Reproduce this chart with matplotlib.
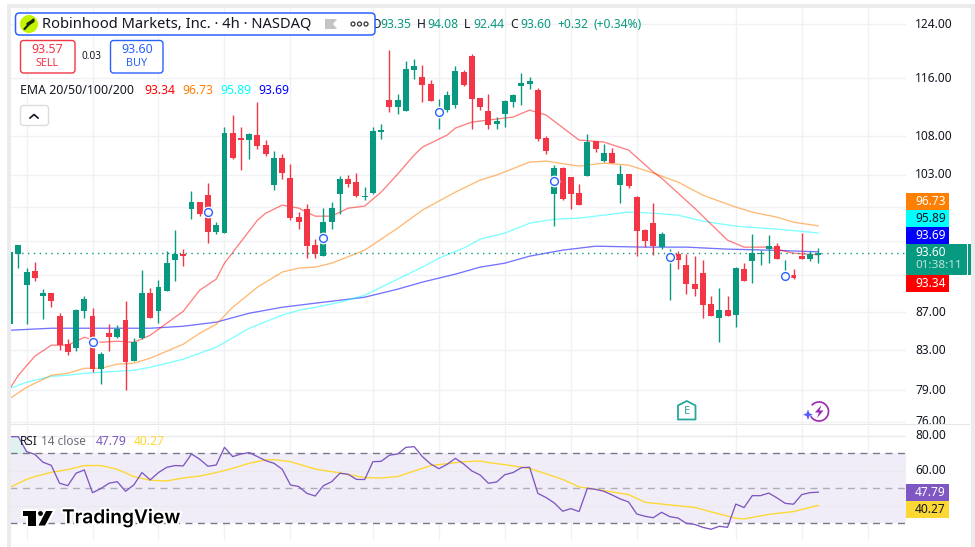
import numpy as np
import matplotlib
matplotlib.use('Agg')
import matplotlib.pyplot as plt
from matplotlib.patches import Rectangle, FancyBboxPatch, Polygon, Circle, Arc
import matplotlib.patheffects as pe

plt.rcParams['font.family'] = ['Noto Sans', 'DejaVu Sans']

# 4h candles
opens = [85.70, 93.42, 89.93, 91.49, 88.71, 89.04, 86.55, 83.62, 83.21, 87.08,
         86.55, 81.08, 84.76, 84.34, 86.13, 81.89, 84.24, 89.04, 87.08, 89.26,
         92.73, 93.42, 98.74, 99.60, 100.46, 95.98, 95.87, 108.43, 107.77, 107.50,
         108.16, 106.84, 101.71, 105.14, 102.58, 97.77, 98.74, 94.46, 93.19, 97.17,
         100.58, 102.46, 102.08, 100.21, 100.71, 108.57, 112.92, 111.95, 111.40, 117.17,
         116.17, 115.17, 111.13, 111.54, 112.23, 116.88, 119.21, 113.20, 111.40, 109.64,
         111.00, 112.64, 114.89, 115.17, 114.32, 107.77, 100.58, 103.85, 102.71, 100.71,
         102.84, 107.37, 104.75, 105.79, 101.71, 103.09, 100.21, 96.22, 97.05, 94.23,
         92.84, 93.42, 92.17, 90.04, 91.26, 87.84, 86.34, 87.19, 86.66, 91.71,
         92.62, 93.42, 94.00, 94.34, 90.71, 91.04, 93.19, 92.84, 93.35]
highs = [93.65, 94.46, 91.83, 92.50, 89.48, 89.04, 86.87, 84.13, 87.30, 88.71,
         87.41, 82.80, 85.70, 85.60, 88.16, 84.24, 91.60, 89.59, 90.48, 93.76,
         96.22, 94.00, 100.96, 99.60, 101.96, 97.17, 109.24, 110.86, 109.24, 108.43,
         112.64, 107.50, 106.05, 105.66, 104.36, 98.38, 99.35, 95.16, 98.86, 99.60,
         102.84, 102.97, 103.22, 101.46, 109.24, 109.64, 120.09, 113.76, 118.47, 118.77,
         117.89, 115.74, 113.06, 114.18, 117.75, 117.17, 119.50, 113.20, 113.76, 110.59,
         112.92, 113.76, 116.74, 116.17, 114.60, 108.03, 104.24, 103.98, 102.71, 101.83,
         108.30, 107.37, 106.97, 106.44, 104.24, 103.09, 100.33, 96.34, 99.47, 95.98,
         94.00, 93.76, 93.42, 93.19, 92.73, 88.71, 89.59, 88.71, 91.94, 92.39,
         95.75, 93.88, 95.63, 94.69, 92.73, 91.71, 95.87, 93.76, 94.08]
lows = [85.70, 91.83, 85.70, 90.37, 86.23, 87.51, 83.00, 82.49, 82.90, 86.34,
        80.78, 79.60, 82.90, 84.24, 79.01, 81.89, 84.13, 86.34, 85.81, 89.26,
        90.37, 92.05, 97.53, 97.89, 94.69, 95.75, 95.87, 105.01, 103.60, 105.01,
        106.31, 105.40, 101.08, 102.46, 97.41, 96.34, 92.96, 92.96, 93.19, 96.34,
        98.13, 101.46, 100.21, 99.84, 100.58, 107.63, 111.27, 111.00, 111.40, 115.88,
        112.64, 112.78, 108.97, 111.27, 111.81, 114.89, 108.97, 111.54, 108.97, 108.97,
        109.24, 111.95, 112.23, 114.46, 107.37, 105.66, 96.69, 99.84, 98.74, 99.23,
        102.84, 105.92, 104.62, 104.49, 99.47, 101.33, 93.19, 94.23, 93.30, 94.00,
        88.27, 91.71, 88.93, 88.71, 86.34, 86.55, 83.82, 86.55, 85.39, 90.37,
        90.15, 92.17, 92.39, 92.84, 90.37, 90.59, 92.84, 92.62, 92.44]
closes = [93.65, 94.46, 91.38, 90.71, 89.04, 88.16, 83.52, 82.80, 87.19, 88.38,
          81.08, 82.59, 84.34, 85.18, 81.79, 83.82, 89.04, 86.34, 89.70, 92.39,
          93.42, 93.19, 99.60, 98.13, 95.98, 96.81, 108.43, 105.14, 107.50, 108.30,
          106.71, 105.66, 105.14, 103.22, 97.65, 97.17, 94.34, 93.42, 97.17, 98.86,
          102.46, 101.83, 100.33, 100.33, 108.70, 108.83, 111.95, 112.92, 117.31, 117.75,
          115.03, 112.78, 111.54, 113.62, 117.03, 115.03, 113.06, 111.95, 109.51, 110.05,
          112.78, 113.62, 115.31, 115.60, 107.63, 106.05, 103.85, 99.96, 100.58, 99.23,
          107.24, 106.31, 105.79, 104.49, 103.09, 101.58, 96.10, 94.92, 94.34, 95.75,
          93.30, 92.73, 90.04, 89.48, 87.73, 86.55, 87.19, 86.55, 91.83, 90.37,
          93.53, 93.53, 94.34, 92.84, 91.15, 90.71, 92.84, 93.42, 93.60]

# bars carrying the hollow circle marks
marker_bars = [10, 24, 38, 52, 66, 80, 94]
marker_prices = [83.82, 98.38, 95.28, 111.27, 102.20, 93.07, 90.93]

ema20_x = [0, 1, 3, 5, 7, 9, 11, 13, 15, 17, 18, 21, 23, 25, 26, 30, 31, 33, 35, 37, 39, 41, 43,
           45, 47, 49, 50, 53, 54, 56, 58, 61, 63, 65, 69, 72, 75, 78, 79, 83, 87, 89, 92, 94, 95, 98]
ema20 = [79.20, 80.48, 82.39, 83.52, 83.52, 84.34, 83.82, 83.93, 83.82, 84.55, 85.18, 87.08, 89.37,
         90.59, 92.39, 97.41, 98.25, 99.23, 98.86, 97.89, 97.89, 98.86, 99.11, 100.83, 103.09, 105.53,
         106.57, 108.16, 109.10, 109.91, 110.18, 110.59, 111.54, 110.86, 107.50, 107.24, 106.18, 103.35,
         102.58, 98.86, 95.04, 94.23, 94.23, 93.76, 93.53, 93.34]
ema50_x = [0, 2, 5, 7, 9, 11, 13, 15, 17, 21, 23, 25, 27, 30, 33, 35, 37, 39, 43, 47, 50, 52, 54,
           57, 59, 63, 65, 69, 72, 75, 78, 81, 84, 88, 90, 93, 95, 98]
ema50 = [78.23, 79.30, 80.48, 80.68, 81.18, 81.18, 81.59, 81.69, 82.19, 83.62, 84.76, 85.70, 87.51,
         89.70, 91.38, 91.83, 91.94, 92.39, 93.88, 96.46, 98.62, 99.72, 100.83, 102.33, 102.97, 104.62,
         104.75, 104.11, 104.49, 104.24, 103.22, 102.08, 100.46, 98.98, 98.38, 97.77, 97.17, 96.73]
ema100_x = [0, 2, 5, 7, 9, 11, 15, 17, 21, 25, 29, 33, 35, 37, 40, 43, 47, 50, 52, 55, 57, 60, 63,
            66, 69, 75, 78, 81, 84, 88, 93, 98]
ema100 = [79.20, 79.80, 80.38, 80.48, 80.68, 80.78, 80.98, 81.28, 82.09, 83.31, 85.28, 86.66, 87.19,
          87.51, 88.05, 88.82, 90.59, 91.94, 92.96, 94.11, 95.16, 95.87, 97.05, 97.53, 97.65, 98.38,
          98.25, 98.01, 97.29, 96.69, 96.34, 95.89]
ema200_x = [0, 5, 11, 17, 21, 25, 29, 33, 37, 40, 43, 47, 50, 54, 57, 60, 63, 67, 71, 77, 82, 87, 92, 98]
ema200 = [85.07, 85.28, 85.28, 85.28, 85.49, 85.92, 86.87, 87.51, 87.95, 88.27, 88.60, 89.48, 90.26,
          91.15, 91.94, 92.39, 93.19, 93.88, 94.34, 94.23, 94.23, 94.00, 93.88, 93.69]

rsi = [79.5, 79.5, 71.0, 69.4, 64.9, 63.1, 52.9, 51.5, 58.6, 60.5,
       47.5, 49.8, 52.9, 53.8, 48.3, 51.9, 59.0, 54.8, 59.0, 62.0,
       63.0, 62.8, 69.6, 66.6, 62.6, 63.3, 73.4, 68.1, 69.6, 70.4,
       68.1, 65.8, 64.3, 60.9, 51.9, 51.0, 47.1, 45.6, 51.5, 53.8,
       58.6, 58.0, 55.1, 55.0, 65.2, 65.4, 68.9, 69.6, 73.4, 73.8,
       68.1, 63.9, 61.2, 63.7, 67.1, 63.9, 59.9, 57.6, 52.9, 53.6,
       57.8, 59.0, 61.8, 62.0, 47.1, 44.7, 41.6, 36.9, 38.4, 36.7,
       50.0, 49.4, 48.3, 46.2, 43.9, 42.2, 35.3, 34.0, 33.2, 36.3,
       33.8, 33.0, 30.0, 29.4, 27.7, 26.6, 28.3, 27.7, 41.0, 39.0,
       45.8, 45.8, 47.3, 44.5, 41.4, 40.9, 46.4, 47.5, 47.79]
rsi_ma_x = [0, 2, 3, 5, 7, 9, 11, 13, 15, 17, 19, 21, 23, 25, 27, 29, 31, 32, 34, 37, 40, 43, 45, 47,
            49, 51, 53, 55, 57, 58, 60, 63, 67, 69, 72, 75, 77, 80, 83, 86, 88, 89, 92, 95, 98]
rsi_ma = [50.6, 55.1, 56.7, 59.1, 60.7, 63.0, 63.0, 60.9, 56.7, 54.6, 54.2, 55.9, 57.0, 59.0, 61.4,
          64.3, 66.2, 66.4, 65.2, 61.0, 58.8, 56.1, 55.9, 56.7, 59.9, 63.0, 64.1, 65.2, 65.6, 64.7,
          63.5, 61.4, 55.1, 50.8, 48.7, 46.4, 42.0, 40.5, 39.1, 35.3, 32.9, 32.5, 35.1, 36.7, 40.27]

grid_bars = [2, 10, 18, 26, 34, 44, 52, 60, 68, 76, 88, 96, 104]
price_grid = [124, 116, 108, 103, 99, 95, 91, 87, 83, 79, 76]
price_labels = [124, 116, 108, 103, 87, 83, 79, 76]
rsi_grid = [80, 60, 40]
rsi_labels = [80, 60]

GREEN = '#089981'
RED = '#f23645'
BLUE = '#2962ff'
GRID = '#f0f1f4'

W, H = 975, 547
fig = plt.figure(figsize=(W / 100, H / 100), dpi=100, facecolor='white')


def pane(left, top, right, bottom):
    return fig.add_axes([left / W, (H - bottom) / H, (right - left) / W, (bottom - top) / H])


x0, step = 10.05, 8.247
xlim = ((10 - x0) / step, (906 - x0) / step)

# price pane
ax = pane(10, 8, 906, 424)
ax.set_yscale('log')
ax.set_xlim(xlim)
ax.set_ylim(75.80, 126.47)
for g in grid_bars:
    ax.axvline(g, color=GRID, lw=1, zorder=0)
for g in price_grid:
    ax.axhline(g, color=GRID, lw=1, zorder=0)

for name, xs, ys, col, a in [('ema200', ema200_x, ema200, '#0000ff', 0.55),
                             ('ema100', ema100_x, ema100, '#00ffff', 0.5),
                             ('ema50', ema50_x, ema50, '#ff8000', 0.55),
                             ('ema20', ema20_x, ema20, '#ff0000', 0.5)]:
    ax.plot(xs, ys, color=col, alpha=a, lw=0.95, zorder=2, label=name)

idx = np.arange(len(closes))
o, h, l, c = map(np.array, (opens, highs, lows, closes))
colors = [GREEN if b >= a else RED for a, b in zip(o, c)]
ax.vlines(idx, l, h, colors=colors, lw=1.0, zorder=3)
ax.bar(idx, np.maximum(np.abs(c - o), 0.12), bottom=np.minimum(o, c), width=0.72, color=colors, zorder=4)
ax.axhline(closes[-1], color=GREEN, lw=1, ls=(0, (1, 3.2)), zorder=5)
ax.plot(marker_bars, marker_prices, 'o', ms=8.5, mfc='white', mec='none', zorder=6)
ax.plot(marker_bars, marker_prices, 'o', ms=5.6, mfc='white', mec=BLUE, mew=1.0, zorder=7)

ax.set_xticks([])
ax.set_yticks([])
ax.minorticks_off()
for s in ax.spines.values():
    s.set_visible(False)

# rsi pane
ax2 = pane(10, 426, 906, 540)
ax2.set_xlim(xlim)
ax2.set_ylim(20.46, 85.6)
ax2.axhspan(30, 70, color='#7e57c2', alpha=0.1, lw=0, zorder=0)
for g in grid_bars:
    ax2.axvline(g, color=GRID, lw=1, zorder=1)
for g in rsi_grid:
    ax2.axhline(g, color='#e9e9ee', lw=1, zorder=1)
ax2.axhline(70, color='#787b86', lw=1, ls=(0, (5, 4)), zorder=2)
ax2.axhline(50, color='#787b86', lw=1, ls=(0, (5, 4)), alpha=0.55, zorder=2)
ax2.axhline(30, color='#787b86', lw=1, ls=(0, (5, 4)), zorder=2)
ax2.fill_between(idx[:3], 70, rsi[:3], color=GREEN, alpha=0.12, lw=0, zorder=2)
ax2.plot(rsi_ma_x, rsi_ma, color='#fdd835', lw=1.0, zorder=3)
ax2.plot(idx, rsi, color='#7e57c2', lw=0.95, zorder=4)
ax2.set_xticks([])
ax2.set_yticks([])
for s in ax2.spines.values():
    s.set_visible(False)

# everything around the panes, in screen pixels
ui = fig.add_axes([0, 0, 1, 1], zorder=10)
ui.set_xlim(0, W)
ui.set_ylim(H, 0)
ui.axis('off')
ui.patch.set_alpha(0)

DARK = '#131722'


def label(x, y, s, color=DARK, size=8.3, ha='left', **kw):
    return ui.text(x, y, s, color=color, fontsize=size, ha=ha, va='center', **kw)


def box(x1, y1, x2, y2, fc='white', ec='none', lw=1, r=3, z=2):
    p = FancyBboxPatch((x1, y1), x2 - x1, y2 - y1, boxstyle=f'round,pad=0,rounding_size={r}',
                       fc=fc, ec=ec, lw=lw, zorder=z)
    ui.add_patch(p)


# frame
ui.add_patch(Rectangle((7, 4), W - 7, 4, fc='#ebebeb', ec='none'))
ui.add_patch(Rectangle((7, 4), 3.5, H - 4, fc='#ebebeb', ec='none'))
ui.add_patch(Rectangle((971, 4), 4, H - 4, fc='#ebebeb', ec='none'))
ui.add_patch(Rectangle((10, 423.5), 960, 1.6, fc='#e6e6e9', ec='none', zorder=6))

# ohlc row, partly tucked under the title box
ohlc = [(371, 'O', DARK), (380, '93.35', GREEN), (417, 'H', DARK), (427, '94.08', GREEN), (464, 'L', DARK),
        (473, '92.44', GREEN), (510, 'C', DARK), (520, '93.60', GREEN), (557, '+0.32', GREEN),
        (594, '(+0.34%)', GREEN)]
for px, s, col in ohlc:
    label(px, 24, s, col, size=8.7, zorder=1)

box(15.5, 13, 375, 35, ec=BLUE, lw=1.1, r=4)
ui.add_patch(Circle((29, 24), 9, fc='#c4f500', ec='none', zorder=3))
ui.plot([24.5, 33.5], [29, 19.5], color='#1c2a10', lw=1.6, zorder=4, solid_capstyle='round')
ui.plot([28, 33], [24, 21], color='#1c2a10', lw=2.4, zorder=4, solid_capstyle='round')
label(42, 24, 'Robinhood Markets, Inc. · 4h · NASDAQ', size=10.6, zorder=4)
ui.add_patch(Polygon([(325, 19), (337, 19), (333, 24), (337, 29), (325, 29)], fc='#c4c4c4', ec='none', zorder=4))
for cx in (353, 359.5, 366):
    ui.add_patch(Circle((cx, 24), 2, fc='white', ec='#333333', lw=0.9, zorder=4))

box(20.5, 40.5, 75, 73, ec=RED)
label(47.5, 49.5, '93.57', RED, size=9, ha='center')
label(47.5, 64, 'SELL', RED, size=7.8, ha='center')
label(92, 56.5, '0.03', DARK, size=7.2, ha='center')
box(110.5, 40.5, 163, 73, ec=BLUE)
label(137, 49.5, '93.60', BLUE, size=9, ha='center')
label(137, 64, 'BUY', BLUE, size=7.8, ha='center')

label(20, 90, 'EMA 20/50/100/200', size=8.85)
for px, s, col in [(144, '93.34', '#ff0000'), (182, '96.73', '#ff8000'), (220, '95.89', '#00ffff'), (258, '93.69', '#0000ff')]:
    label(px, 90, s, col, size=8.7)
box(20.5, 105.5, 48.5, 125.5, ec='#dcdcdc')
ui.plot([30, 34, 38], [118, 114.5, 118], color=DARK, lw=1.2)

# price scale
for v in price_labels:
    py = H - ax.transData.transform((0, v))[1]
    label(915, py, f'{v:.2f}', size=8.6, zorder=5)
ui.add_patch(Rectangle((906, 425), 65, 3, fc='white', ec='none', zorder=5))
for v in rsi_labels:
    py = H - ax2.transData.transform((0, v))[1]
    label(915, py, f'{v:.2f}', size=8.6, zorder=5)

tags = [(193, 210, '#ff8000', '96.73', 'white'), (210, 227, '#00ffff', '95.89', DARK), (227, 244, '#0000ff', '93.69', 'white'),
        (275, 292, '#ff0000', '93.34', 'white'), (484, 501, '#7e57c2', '47.79', 'white'), (501, 518, '#fdd835', '40.27', DARK)]
for y1, y2, col, s, tc in tags:
    ui.add_patch(Rectangle((906, y1), 43, y2 - y1, fc=col, ec='none', zorder=5))
    label(915, (y1 + y2) / 2, s, tc, size=8.6, zorder=6)
box(906, 244, 967, 275, fc=GREEN, r=1, z=5)
ui.add_patch(Rectangle((968, 244), 2.5, 31, fc=GREEN, ec='none', zorder=5))
label(915, 252.5, '93.60', 'white', size=8.6, zorder=6)
label(915, 266, '01:38:11', '#bfe3da', size=8.4, zorder=6)

# rsi legend
label(20, 441.5, 'RSI', size=8.5)
label(41, 441.5, '14 close', '#6a6d78', size=8.5)
label(96, 441.5, '47.79', '#7e57c2', size=8.7)
label(134, 441.5, '40.27', '#fdd835', size=8.7)

# tv logo
halo = [pe.withStroke(linewidth=3, foreground='white')]
for pts in ([(22.7, 511), (36, 511), (36, 525.5), (28, 525.5), (28, 515.5), (22.7, 515.5)],
            [(38.5, 525.5), (46, 511), (52.7, 511), (45, 525.5)]):
    ui.add_patch(Polygon(pts, fc='black', ec='none', zorder=7, path_effects=halo))
ui.add_patch(Circle((40.5, 513.5), 2.4, fc='black', ec='none', zorder=7))
label(62, 518, 'TradingView', 'black', size=13.8, weight='semibold', family='Inter', zorder=7, path_effects=halo)

# earnings mark and lightning mark
ui.add_patch(Polygon([(678, 405.5), (686.8, 401), (695.5, 405.5), (695.5, 419.5), (678, 419.5)],
                     fc='white', ec='#26a69a', lw=1.3, joinstyle='round', zorder=6))
label(686.8, 411.5, 'E', '#26a69a', size=8, ha='center', weight='bold', zorder=7)
ui.add_patch(Arc((819, 411.5), 19, 19, theta1=-140, theta2=150, ec='#9c27b0', lw=1.2, zorder=6))
ui.add_patch(Polygon([(821.5, 405), (815, 412.5), (819, 412.5), (817, 418), (823.5, 410.5), (819.5, 410.5)],
                     fc='#9c27b0', ec='none', zorder=6))
ui.add_patch(Polygon([(808, 409.5), (809.5, 413.3), (813, 414.7), (809.5, 416), (808, 420), (806.5, 416), (803, 414.7), (806.5, 413.3)],
                     fc='#5b5bff', ec='none', zorder=6))

fig.savefig('out.png', dpi=100, facecolor='white')
